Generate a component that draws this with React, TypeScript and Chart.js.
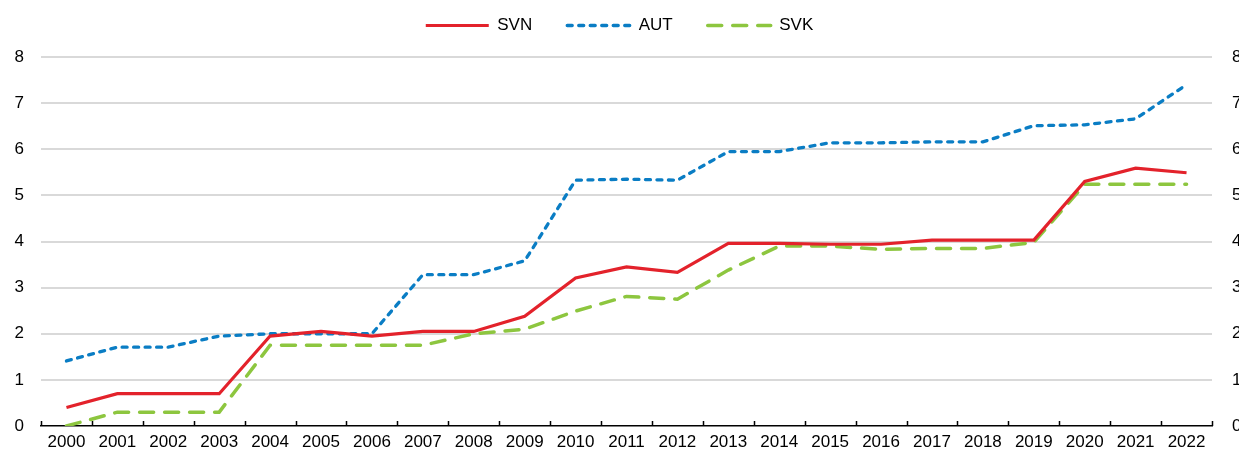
import React, { useEffect, useRef } from "react";
import { Chart, registerables } from "chart.js";

Chart.register(...registerables);

const years = [
  "2000", "2001", "2002", "2003", "2004", "2005", "2006", "2007", "2008", "2009", "2010", "2011",
  "2012", "2013", "2014", "2015", "2016", "2017", "2018", "2019", "2020", "2021", "2022",
];

const svnValues = [
  0.4, 0.7, 0.7, 0.7, 1.95, 2.05, 1.95, 2.05, 2.05, 2.38, 3.21, 3.45,
  3.33, 3.96, 3.96, 3.94, 3.94, 4.03, 4.03, 4.03, 5.3, 5.59, 5.49,
];

const autValues = [
  1.41, 1.71, 1.71, 1.95, 2.0, 2.0, 2.0, 3.28, 3.28, 3.58, 5.33, 5.35,
  5.33, 5.95, 5.95, 6.14, 6.14, 6.16, 6.16, 6.51, 6.53, 6.66, 7.4,
];

const svkValues = [
  0.0, 0.3, 0.3, 0.3, 1.75, 1.75, 1.75, 1.75, 2.0, 2.1, 2.49, 2.81,
  2.75, 3.38, 3.9, 3.9, 3.83, 3.85, 3.85, 3.98, 5.24, 5.24, 5.24,
];

const yMin = 0;
const yMax = 8;
const yStep = 1;

const FONT = "'Liberation Sans Narrow', 'Arial Narrow', 'Liberation Sans', Arial, sans-serif";
const FS = 17;

const W = 1239;
const H = 458;

const axisTicksPlugin = {
  id: "axisTicksUp",
  afterDraw(chart: any) {
    const xs = chart.scales.x;
    const area = chart.chartArea;
    const ctx = chart.ctx;
    const n = xs.ticks.length;
    ctx.save();
    ctx.strokeStyle = "#000";
    ctx.lineWidth = 1.5;
    ctx.beginPath();
    for (let i = 0; i <= n; i++) {
      const x = Math.round(xs.left + (i * xs.width) / n) + 0.5;
      ctx.moveTo(x, area.bottom);
      ctx.lineTo(x, area.bottom - 5);
    }
    ctx.stroke();
    ctx.restore();
  },
};

export default function App() {
  const ref = useRef<HTMLCanvasElement | null>(null);

  useEffect(() => {
    if (!ref.current) return;
    const chart = new Chart(ref.current, {
      type: "line",
      data: {
        labels: years,
        datasets: [
          {
            label: "SVN",
            data: svnValues,
            borderColor: "#E3222B",
            backgroundColor: "#E3222B",
            borderWidth: 3.2,
            pointRadius: 0,
            tension: 0,
            borderJoinStyle: "miter",
          },
          {
            label: "AUT",
            data: autValues,
            borderColor: "#0A7DC4",
            backgroundColor: "#0A7DC4",
            borderWidth: 3.3,
            borderDash: [5, 6.5],
            borderCapStyle: "round",
            pointRadius: 0,
            tension: 0,
          },
          {
            label: "SVK",
            data: svkValues,
            borderColor: "#8DC63F",
            backgroundColor: "#8DC63F",
            borderWidth: 3.5,
            borderDash: [14, 11],
            borderCapStyle: "round",
            pointRadius: 0,
            tension: 0,
          },
        ],
      },
      options: {
        responsive: false,
        animation: false,
        devicePixelRatio: 1,
        layout: { padding: { top: -18, left: 0, right: 0, bottom: 0 } },
        font: { family: FONT, size: FS },
        plugins: {
          tooltip: { enabled: false },
          legend: {
            display: true,
            position: "top",
            labels: {
              usePointStyle: true,
              pointStyle: "line",
              pointStyleWidth: 63,
              padding: 35,
              color: "#000",
              font: { family: FONT, size: FS },
              generateLabels: (chart: any) =>
                chart.data.datasets.map((ds: any, i: number) => ({
                  text: ds.label,
                  datasetIndex: i,
                  hidden: false,
                  fillStyle: ds.borderColor,
                  strokeStyle: ds.borderColor,
                  lineWidth: ds.borderWidth,
                  lineDash: ds.borderDash || [],
                  lineCap: ds.borderCapStyle || "butt",
                  pointStyle: "line",
                  fontColor: "#000",
                })),
            },
          },
        },
        scales: {
          x: {
            type: "category",
            position: "bottom",
            offset: true,
            grid: { display: false, drawTicks: false },
            border: { display: true, color: "#000", width: 1.5 },
            ticks: {
              color: "#000",
              font: { family: FONT, size: FS },
              maxRotation: 0,
              minRotation: 0,
              autoSkip: false,
              padding: 6,
            },
            afterFit: (s: any) => {
              s.height = 32;
            },
          },
          xTop: {
            type: "category",
            position: "top",
            display: true,
            grid: { display: false, drawTicks: false },
            border: { display: false },
            ticks: { display: false },
            afterFit: (s: any) => {
              s.height = 13;
            },
          },
          y: {
            type: "linear",
            position: "left",
            min: yMin,
            max: yMax,
            ticks: {
              stepSize: yStep,
              color: "#000",
              font: { family: FONT, size: FS },
              padding: 17,
            },
            grid: {
              drawTicks: false,
              lineWidth: 2,
              color: (c: any) => (c.tick && c.tick.value === 0 ? "rgba(0,0,0,0)" : "#D9D9D9"),
            },
            border: { display: false },
            afterFit: (s: any) => {
              s.width = 41;
            },
          },
          y2: {
            type: "linear",
            position: "right",
            min: yMin,
            max: yMax,
            ticks: {
              stepSize: yStep,
              color: "#000",
              font: { family: FONT, size: FS },
              padding: 20,
            },
            grid: { display: false, drawTicks: false },
            border: { display: false },
            afterFit: (s: any) => {
              s.width = W - 1212;
            },
          },
        },
      },
      plugins: [axisTicksPlugin],
    } as any);
    return () => chart.destroy();
  }, []);

  return (
    <div style={{ position: "fixed", left: 0, top: 0, width: W, height: H, overflow: "hidden", background: "#fff" }}>
      <canvas ref={ref} width={W} height={H} style={{ display: "block", width: W, height: H }} />
    </div>
  );
}
